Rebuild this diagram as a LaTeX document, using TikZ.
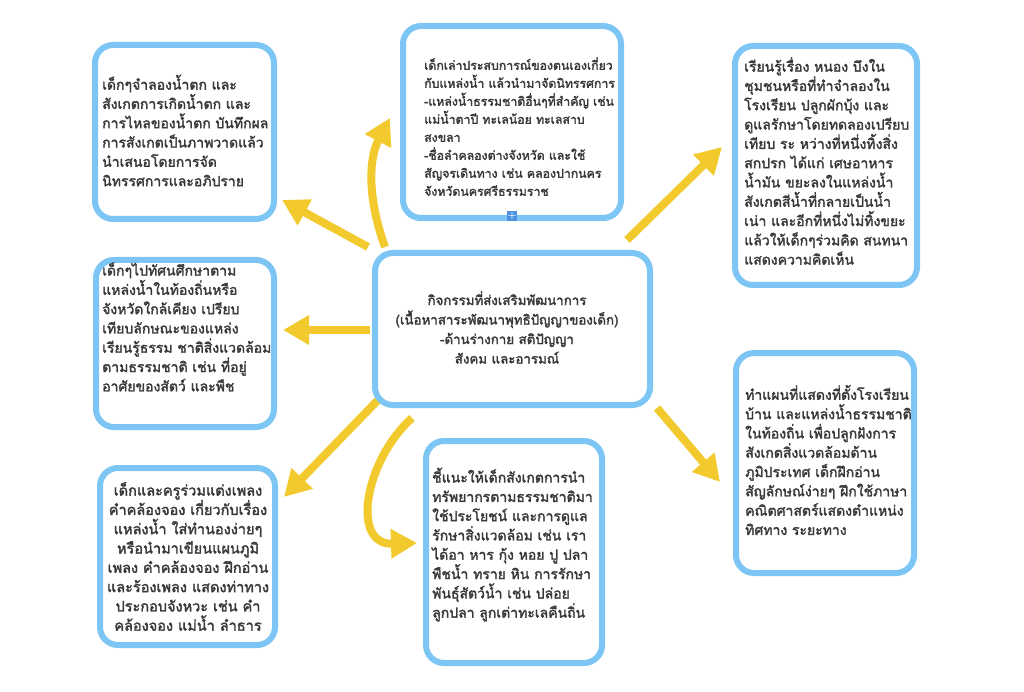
\documentclass[tikz,border=0pt]{standalone}
\usepackage{fontspec}
\newfontfamily\thaifont[Script=Thai,AutoFakeBold=2.2]{Loma}
\usetikzlibrary{arrows.meta,backgrounds}
\definecolor{boxblue}{HTML}{7CC5F4}
\definecolor{arryellow}{HTML}{F2CA2E}
\definecolor{txtgray}{HTML}{3A3A3A}
\definecolor{plusblue}{HTML}{4A8FE0}
\begin{document}
\begin{tikzpicture}[x=1pt,y=-1pt,
  box/.style={draw=boxblue, line width=6pt, rounded corners=18pt, fill=white, inner sep=0pt},
  txt/.style={font=\thaifont\bfseries\fontsize{14}{19.3}\selectfont, text=txtgray, inner sep=0pt, align=left, anchor=west},
  ctxt/.style={txt, align=center, anchor=center},
  arr/.style={draw=arryellow, line width=8pt, -{Triangle[width=28pt,length=26pt]}}
]
\useasboundingbox (0,0) rectangle (1024,692);
% boxes
\node[box, minimum width=179pt, minimum height=174pt] (b1) at (184.5,132) {};
\node[box, minimum width=218pt, minimum height=192pt] (b2) at (512,122) {};
\node[box, minimum width=182pt, minimum height=239pt] (b3) at (826,165.5) {};
\node[box, minimum width=178pt, minimum height=167pt] (b4) at (185,343.5) {};
\node[box, minimum width=275pt, minimum height=152pt] (b5) at (512.5,329) {};
\node[box, minimum width=178pt, minimum height=220pt] (b6) at (825,463) {};
\node[box, minimum width=175pt, minimum height=177pt] (b7) at (187.5,556.5) {};
\node[box, minimum width=176pt, minimum height=222pt] (b8) at (514,552) {};
\node[fill=plusblue, minimum size=10pt, inner sep=0pt, text=white, font=\bfseries\fontsize{10}{10}\selectfont] (plus) at (512,216) {+};
% texts
\node[txt] (t1) at (102,130.5) {เด็กๆจำลองน้ำตก และ\\สังเกตการเกิดน้ำตก และ\\การไหลของน้ำตก บันทึกผล\\การสังเกตเป็นภาพวาดแล้ว\\นำเสนอโดยการจัด\\นิทรรศการและอภิปราย};
\node[txt, font=\thaifont\bfseries\fontsize{12.3}{18}\selectfont] (t2) at (424,126.5) {เด็กเล่าประสบการณ์ของตนเองเกี่ยว\\กับแหล่งน้ำ แล้วนำมาจัดนิทรรศการ\\-แหล่งน้ำธรรมชาติอื่นๆที่สำคัญ เช่น\\แม่น้ำตาปี ทะเลน้อย ทะเลสาบ\\สงขลา\\-ชื่อลำคลองต่างจังหวัด และใช้\\สัญจรเดินทาง เช่น คลองปากนคร\\จังหวัดนครศรีธรรมราช};
\node[txt] (t3) at (744,161) {เรียนรู้เรื่อง หนอง บึงใน\\ชุมชนหรือที่ทำจำลองใน\\โรงเรียน ปลูกผักบุ้ง และ\\ดูแลรักษาโดยทดลองเปรียบ\\เทียบ ระ หว่างที่หนึ่งทิ้งสิ่ง\\สกปรก ได้แก่ เศษอาหาร\\น้ำมัน ขยะลงในแหล่งน้ำ\\สังเกตสีน้ำที่กลายเป็นน้ำ\\เน่า และอีกที่หนึ่งไม่ทิ้งขยะ\\แล้วให้เด็กๆร่วมคิด สนทนา\\แสดงความคิดเห็น};
\node[txt] (t4) at (102,327) {เด็กๆไปทัศนศึกษาตาม\\แหล่งน้ำในท้องถิ่นหรือ\\จังหวัดใกล้เคียง เปรียบ\\เทียบลักษณะของแหล่ง\\เรียนรู้ธรรม ชาติสิ่งแวดล้อม\\ตามธรรมชาติ เช่น ที่อยู่\\อาศัยของสัตว์ และพืช};
\node[ctxt, font=\thaifont\bfseries\fontsize{13.3}{19.5}\selectfont] (t5) at (507,327.5) {กิจกรรมที่ส่งเสริมพัฒนาการ\\(เนื้อหาสาระพัฒนาพุทธิปัญญาของเด็ก)\\-ด้านร่างกาย สติปัญญา\\สังคม และอารมณ์};
\node[txt] (t6) at (745,460) {ทำแผนที่แสดงที่ตั้งโรงเรียน\\บ้าน และแหล่งน้ำธรรมชาติ\\ในท้องถิ่น เพื่อปลูกฝังการ\\สังเกตสิ่งแวดล้อมด้าน\\ภูมิประเทศ เด็กฝึกอ่าน\\สัญลักษณ์ง่ายๆ ฝึกใช้ภาษา\\คณิตศาสตร์แสดงตำแหน่ง\\ทิศทาง ระยะทาง};
\node[ctxt, font=\thaifont\bfseries\fontsize{14.5}{19.3}\selectfont] (t7) at (188,556.5) {เด็กและครูร่วมแต่งเพลง\\คำคล้องจอง เกี่ยวกับเรื่อง\\แหล่งน้ำ ใส่ทำนองง่ายๆ\\หรือนำมาเขียนแผนภูมิ\\เพลง คำคล้องจอง ฝึกอ่าน\\และร้องเพลง แสดงท่าทาง\\ประกอบจังหวะ เช่น คำ\\คล้องจอง แม่น้ำ ลำธาร};
\node[txt] (t8) at (432,544.5) {ชี้แนะให้เด็กสังเกตการนำ\\ทรัพยากรตามธรรมชาติมา\\ใช้ประโยชน์ และการดูแล\\รักษาสิ่งแวดล้อม เช่น เรา\\ได้อา หาร กุ้ง หอย ปู ปลา\\พืชน้ำ ทราย หิน การรักษา\\พันธุ์สัตว์น้ำ เช่น ปล่อย\\ลูกปลา ลูกเต่าทะเลคืนถิ่น};
% arrows
\begin{pgfonlayer}{background}
\fill[white] (0,0) rectangle (1024,692);
\draw[arr] ([shift={(-4,-3)}]b5.north west) -- ([shift={(5,-22)}]b1.south east);
\draw[arr] ([shift={(13,-3)}]b5.north west) .. controls +(-17,-47) and +(-22,42) .. ([shift={(-10,-4)}]b2.west);
\draw[arr] ([shift={(-2,1)}]b5.west) -- ([shift={(6,-13.5)}]b4.east);
\draw[arr] ([shift={(6,-8)}]b5.south west) -- ([shift={(6,32)}]b7.north east);
\draw[arr] ([shift={(40,10)}]b5.south west) .. controls +(-47,42) and +(-67,2) .. ([shift={(-6,-9)}]b8.west);
\draw[arr] ([shift={(-26,-10)}]b5.north east) -- ([shift={(-10,-18.5)}]b3.west);
\draw[arr] ([shift={(4,0)}]b5.south east) -- ([shift={(-13,19)}]b6.west);
\end{pgfonlayer}
\end{tikzpicture}
\end{document}
